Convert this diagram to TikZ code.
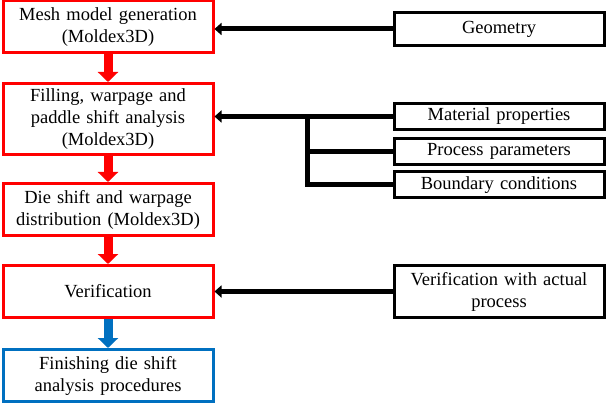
\documentclass[tikz,border=0pt]{standalone}
\usepackage{fontspec}
\setmainfont{Liberation Serif}
\usetikzlibrary{arrows.meta}
\definecolor{myred}{RGB}{255,0,0}
\definecolor{myblue}{RGB}{0,112,192}
\begin{document}
\begin{tikzpicture}[x=1pt,y=-1pt,
  every node/.style={font=\fontsize{18.5}{22}\selectfont, align=center, inner sep=0pt},
  lbox/.style={draw=myred, line width=3pt, minimum width=210pt, text width=208pt},
  bbox/.style={draw=myblue, line width=3pt, minimum width=210pt, text width=208pt},
  rbox/.style={draw=black, line width=3pt, minimum width=210pt, text width=208pt},
  redarrow/.style={draw=myred, line width=9pt, -{Triangle[length=10pt,width=20pt]}},
  bluearrow/.style={draw=myblue, line width=9pt, -{Triangle[length=10pt,width=20pt]}},
  blkarrow/.style={draw=black, line width=5pt, -{Triangle[length=7pt,width=12pt]}},
  blkline/.style={draw=black, line width=5pt}]
\useasboundingbox (0,0) rectangle (607,403);
% left column
\node[lbox, minimum height=52pt] (b1) at (108,27) {Mesh model generation\\(Moldex3D)};
\node[lbox, minimum height=71pt] (b2) at (108,119) {Filling, warpage and\\paddle shift analysis\\(Moldex3D)};
\node[lbox, minimum height=52pt] (b3) at (108,209.5) {Die shift and warpage\\distribution (Moldex3D)};
\node[lbox, minimum height=52pt] (b4) at (108,291.5) {Verification};
\node[bbox, minimum height=52pt] (b5) at (108,375.5) {Finishing die shift\\analysis procedures};
% right column
\node[rbox, minimum height=33pt] (geo) at (499,29) {Geometry};
\node[rbox, minimum height=26pt] (mat) at (499,116.5) {Material properties};
\node[rbox, minimum height=26pt] (pp) at (499,151.5) {Process parameters};
\node[rbox, minimum height=26pt] (bc) at (499,185) {Boundary conditions};
\node[rbox, minimum height=52pt] (ver) at (499,291.5) {Verification with actual\\process};
\coordinate (tr) at (307,116.5);
% vertical arrows
\draw[redarrow] (b1.south) -- (b2.north);
\draw[redarrow] (b2.south) -- (b3.north);
\draw[redarrow] (b3.south) -- (b4.north);
\draw[bluearrow] (b4.south) -- (b5.north);
% horizontal arrows
\draw[blkarrow] (geo.west) -- (geo.west -| b1.east);
\draw[blkarrow] (mat.west) -- (mat.west -| b2.east);
\draw[blkline] (pp.west) -- (pp.west -| tr);
\draw[blkline] (bc.west) -| ([yshift=-2.5pt]tr);
\draw[blkarrow] (ver.west) -- (ver.west -| b4.east);
\end{tikzpicture}
\end{document}
